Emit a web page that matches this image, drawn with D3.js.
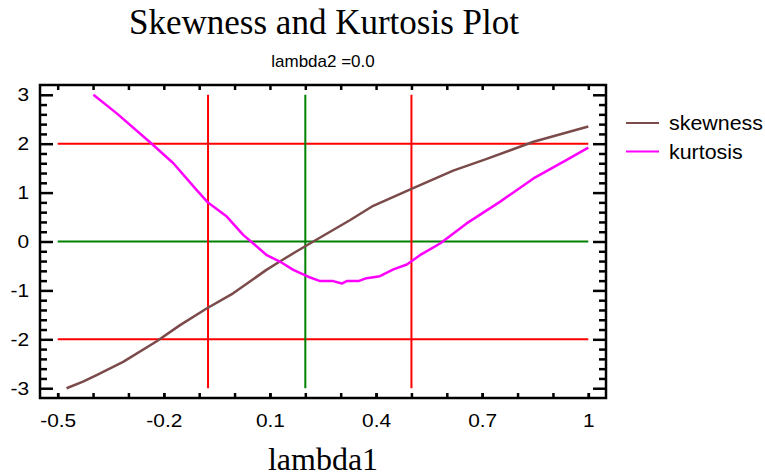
<!DOCTYPE html>
<html>
<head>
<meta charset="utf-8">
<script src="https://cdn.jsdelivr.net/npm/d3@7/dist/d3.min.js"></script>
<style>
  body { margin: 0; background: #fff; }
  svg { display: block; }
</style>
</head>
<body>
<svg class="visuals" width="765" height="476"></svg>
<script>
// values
var skewX = [-0.475, -0.43, -0.39, -0.315, -0.22, -0.154, -0.079, -0.004, 0.09, 0.128, 0.171, 0.213, 0.27, 0.327, 0.392, 0.505, 0.618, 0.713, 0.845, 0.939, 1.0];
var skewY = [-3.0, -2.87, -2.73, -2.46, -2.04, -1.71, -1.37, -1.06, -0.58, -0.41, -0.22, -0.04, 0.2, 0.44, 0.73, 1.09, 1.45, 1.69, 2.04, 2.23, 2.35];

var kurtX = [-0.399, -0.333, -0.239, -0.173, -0.107, -0.077, -0.022, 0.025, 0.053, 0.091, 0.128, 0.166, 0.208, 0.242, 0.279, 0.303, 0.317, 0.35, 0.373, 0.411, 0.449, 0.487, 0.524, 0.581, 0.656, 0.75, 0.845, 0.939, 1.0];
var kurtY = [3.0, 2.62, 2.03, 1.6, 1.05, 0.81, 0.51, 0.13, -0.04, -0.28, -0.41, -0.58, -0.72, -0.81, -0.81, -0.86, -0.81, -0.81, -0.75, -0.71, -0.57, -0.47, -0.28, -0.04, 0.37, 0.81, 1.29, 1.67, 1.92];

var hLines = [{y: 2, c: '#ff0000'}, {y: 0, c: '#008000'}, {y: -2, c: '#ff0000'}];
var vLines = [{x: -0.075, c: '#ff0000'}, {x: 0.2, c: '#008000'}, {x: 0.5, c: '#ff0000'}];

var xTicks = [-0.5, -0.2, 0.1, 0.4, 0.7, 1];
var xTickLabels = ['-0.5', '-0.2', '0.1', '0.4', '0.7', '1'];
var yTicks = [-3, -2, -1, 0, 1, 2, 3];

var seriesNames = ['skewness', 'kurtosis'];
var seriesColors = ['#7b4a4a', '#ff00ff'];

var SkewKurtPlot = (function(){
  return function(selector){
    var svg = d3.select(selector);
    var pl = 40, pt = 85, pr = 606, pb = 398;
    var sans = 'Arial, "Liberation Sans", sans-serif';
    var serif = '"Times New Roman", "Liberation Serif", serif';

    var x = d3.scaleLinear().domain([-0.55, 1.05]).range([pl, pr]);
    var y = d3.scaleLinear().domain([-3.2, 3.2]).range([pb, pt]);

    var xMinor = d3.range(-5, 11).map(function(d){ return d / 10; });
    var yMinor = d3.range(-15, 16).map(function(d){ return d / 5; })
      .filter(function(d){ return Math.round(d * 5) % 5 !== 0; });

    var styleAxis = function(g){
      g.select('.domain').remove();
      g.attr('font-size', 19).attr('font-family', sans);
    };

    // ticks (all point inward)
    svg.append('g').attr('transform', 'translate(' + pl + ',0)')
      .call(d3.axisLeft(y).tickValues(yTicks).tickSize(-13).tickPadding(10).tickFormat(String))
      .call(styleAxis);
    svg.append('g').attr('transform', 'translate(' + pl + ',0)')
      .call(d3.axisLeft(y).tickValues(yMinor).tickSize(-7).tickFormat(''))
      .call(styleAxis);
    svg.append('g').attr('transform', 'translate(' + pr + ',0)')
      .call(d3.axisRight(y).tickValues(yTicks).tickSize(-13).tickFormat(''))
      .call(styleAxis);
    svg.append('g').attr('transform', 'translate(' + pr + ',0)')
      .call(d3.axisRight(y).tickValues(yMinor).tickSize(-7).tickFormat(''))
      .call(styleAxis);
    svg.append('g').attr('transform', 'translate(0,' + pb + ')')
      .call(d3.axisBottom(x).tickValues(xTicks).tickSize(-5).tickPadding(16)
        .tickFormat(function(d, i){ return xTickLabels[i]; }))
      .call(styleAxis);
    svg.append('g').attr('transform', 'translate(0,' + pb + ')')
      .call(d3.axisBottom(x).tickValues(xMinor).tickSize(-5).tickFormat(''))
      .call(styleAxis);
    svg.append('g').attr('transform', 'translate(0,' + pt + ')')
      .call(d3.axisTop(x).tickValues(xMinor).tickSize(-5).tickFormat(''))
      .call(styleAxis);

    svg.selectAll('.tick line').attr('stroke', '#000').attr('stroke-width', 2.5);
    svg.selectAll('.tick text')
      .attr('transform', 'scale(1.1,1)')
      .attr('fill', '#000');

    // reference lines
    svg.selectAll('.hline').data(hLines).enter().append('line')
      .attr('x1', x(-0.5)).attr('x2', x(1.0))
      .attr('y1', function(d){ return y(d.y); })
      .attr('y2', function(d){ return y(d.y); })
      .style('stroke', function(d){ return d.c; })
      .style('stroke-width', '2px');
    svg.selectAll('.vline').data(vLines).enter().append('line')
      .attr('y1', y(3)).attr('y2', y(-3))
      .attr('x1', function(d){ return x(d.x); })
      .attr('x2', function(d){ return x(d.x); })
      .style('stroke', function(d){ return d.c; })
      .style('stroke-width', '2px');

    // curves
    var line = d3.line()
      .x(function(d){ return x(d[0]); })
      .y(function(d){ return y(d[1]); });

    var series = [d3.zip(skewX, skewY), d3.zip(kurtX, kurtY)];
    svg.selectAll('.series').data(series).enter().append('path')
      .attr('d', line)
      .style('fill', 'none')
      .style('stroke', function(d, i){ return seriesColors[i]; })
      .style('stroke-width', '2.5px')
      .style('stroke-linejoin', 'round');

    // frame
    svg.append('rect')
      .attr('x', pl).attr('y', pt)
      .attr('width', pr - pl).attr('height', pb - pt)
      .style('fill', 'none').style('stroke', '#000').style('stroke-width', '2.5px');

    // legend
    var lg = svg.selectAll('.legend').data(seriesNames).enter().append('g')
      .attr('transform', function(d, i){ return 'translate(626,' + (123 + i * 28.5) + ')'; });
    lg.append('line')
      .attr('x1', 0).attr('x2', 33).attr('y1', 0).attr('y2', 0)
      .style('stroke', function(d, i){ return seriesColors[i]; })
      .style('stroke-width', '2px');
    lg.append('text')
      .text(function(d){ return d; })
      .attr('transform', 'translate(43,7) scale(1.07,1)')
      .style('font-family', sans)
      .style('font-size', '20px');

    // titles
    svg.append('text')
      .text('Skewness and Kurtosis Plot')
      .attr('x', 324).attr('y', 34)
      .attr('text-anchor', 'middle')
      .style('font-family', serif)
      .style('font-size', '35px');
    svg.append('text')
      .text('lambda2 =0.0')
      .attr('x', 323).attr('y', 67)
      .attr('text-anchor', 'middle')
      .style('font-family', sans)
      .style('font-size', '17px');
    svg.append('text')
      .text('lambda1')
      .attr('x', 323).attr('y', 470)
      .attr('text-anchor', 'middle')
      .style('font-family', serif)
      .style('font-size', '32px');
  };
}());

document.addEventListener('DOMContentLoaded', function(){
  new SkewKurtPlot('.visuals');
});
</script>
</body>
</html>
